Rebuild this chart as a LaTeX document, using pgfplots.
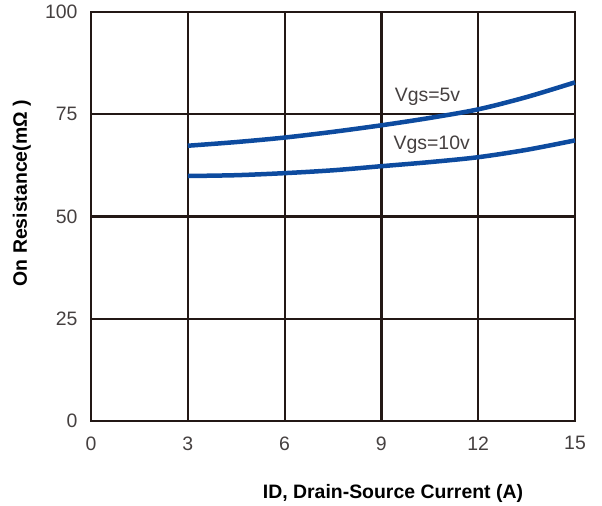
\documentclass[border=0pt]{standalone}
\usepackage{pgfplots}
\pgfplotsset{compat=1.18}
\usepackage{fontspec}
\setmainfont{Liberation Sans}
\definecolor{gridc}{HTML}{231815}
\definecolor{curve}{HTML}{0D4B9F}
\definecolor{tickc}{HTML}{454040}
\begin{document}
\begin{tikzpicture}
\begin{axis}[
  at={(0,0)}, anchor=south west,
  scale only axis, width=484bp, height=409bp,
  xmin=0, xmax=15, ymin=0, ymax=100,
  xtick={0,3,6,9,12,15}, ytick={0,25,50,75,100},
  grid=major, major grid style={gridc, line width=2.2bp},
  axis line style={gridc, line width=2.8bp},
  major tick length=0pt,
  /pgf/number format/assume math mode=true,
  tick label style={font=\fontsize{19.5}{23}\selectfont, text=tickc},
  yticklabel style={xshift=-10bp},
  xticklabel style={yshift=-12bp},
  xlabel={\textbf{ID, Drain-Source Current (A)}},
  ylabel={\textbf{On Resistance(mΩ )}},
  label style={font=\fontsize{19.5}{23}\selectfont},
  xlabel style={at={(axis description cs:0.624,-0.176)}, anchor=center},
  ylabel style={at={(axis description cs:-0.143,0.557)}, anchor=center, rotate=0},
  clip=false,
]
\addplot[curve, line width=4.5bp, smooth] coordinates {
(3,67.3) (4.5,68.2) (6,69.3) (7.5,70.7) (9,72.3) (10.5,74.1) (12,76.2) (13.5,79.2) (15,82.8)};
\addplot[curve, line width=4.5bp, smooth] coordinates {
(3,59.9) (4.5,60.1) (6,60.6) (7.5,61.3) (9,62.3) (10.5,63.3) (12,64.5) (13.5,66.3) (15,68.6)};
\node[font=\fontsize{19.5}{23}\selectfont, text=tickc] at (axis cs:10.43,79.2) {Vgs=5v};
\node[font=\fontsize{19.5}{23}\selectfont, text=tickc] at (axis cs:10.56,67.5) {Vgs=10v};
\end{axis}
\path (current axis.south west) ++(-91bp,-85bp) coordinate (bbA);
\path (current axis.north east) ++(27bp,12bp) coordinate (bbB);
\path (bbA) rectangle (bbB);
\end{tikzpicture}
\end{document}
